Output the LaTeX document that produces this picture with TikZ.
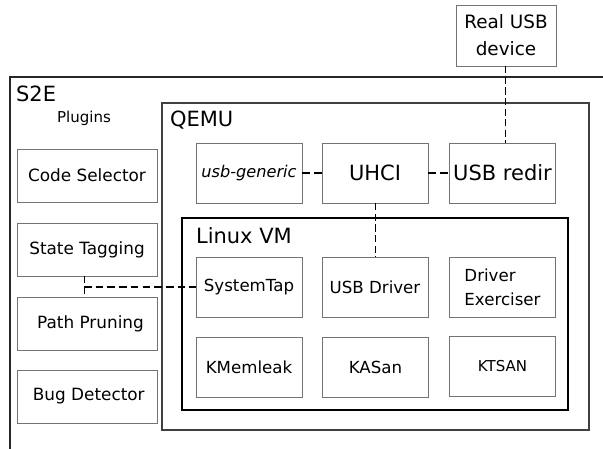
\documentclass[tikz,border=0pt]{standalone}
\usepackage{fontspec}
\setmainfont{DejaVu Sans}
\usetikzlibrary{calc}

\tikzset{
  plugbox/.style={draw=black!55, line width=0.7pt, minimum width=42mm, minimum height=15.9mm, inner sep=0pt, font=\fontsize{14.4}{17}\selectfont},
  qbox/.style={draw=black!55, line width=0.7pt, minimum width=31.8mm, minimum height=18mm, inner sep=0pt, font=\fontsize{14.2}{20.5}\selectfont},
  bigtext/.style={font=\fontsize{17.9}{21}\selectfont},
  link/.style={dash pattern=on 6.5pt off 3.5pt, line width=1.3pt},
  thinlink/.style={dash pattern=on 6pt off 3pt, line width=0.8pt}
}

\begin{document}
\begin{tikzpicture}[x=0.3mm, y=-0.3mm]

                \clip (0,0) rectangle (603,449);
                \fill[white] (0,0) rectangle (603,449);

                % outer frames
                \draw[black!85, line width=1pt] (10,477) -- (10,77) -- (640,77);
                \draw[black!75, line width=1pt] (162,103) rectangle (589,430);
                \draw[black, line width=2pt] (182,218) rectangle (568,410);

                \node[bigtext, anchor=west] (s2e) at (12,94) {S2E};
                \node[font=\fontsize{12.8}{15}\selectfont] (plugins) at (84,118) {Plugins};
                \node[bigtext, anchor=west] (qemu) at (166,120) {QEMU};
                \node[bigtext, anchor=west] (linux) at (192,235.5) {Linux VM};

                % plugins
                \node[plugbox] (cs) at (87,175.5) {Code Selector};
                \node[plugbox] (st) at (87,249.5) {State Tagging};
                \node[plugbox] (pp) at (87,323.5) {\hspace{6pt}Path Pruning};
                \node[plugbox] (bd) at (87,396.5) {\hspace{3pt}Bug Detector};

                % usb device
                \node[draw=black!55, line width=0.7pt, minimum width=30mm, minimum height=18.3mm, inner sep=0pt,
                      align=center, font=\fontsize{15.7}{23}\selectfont] (real) at (506,35.5) {Real USB\\device};

                % qemu
                \node[qbox, font=\fontsize{13.8}{17}\selectfont\itshape] (ug) at (249,173) {usb-generic\hspace{4pt}};
                \node[qbox, bigtext] (uhci) at (375,173) {UHCI\hspace{4pt}};
                \node[qbox, bigtext] (redir) at (502.5,173) {USB redir};

                % linux vm
                \node[qbox] (stap) at (249,287) {\raisebox{-3pt}{SystemTap}};
                \node[qbox] (drv) at (375,287) {USB Driver\hspace{4pt}};
                \node[qbox, align=left] (dex) at (502.5,287) {Driver\\Exerciser};
                \node[qbox] (kml) at (249,367) {\raisebox{-2pt}{KMemleak}};
                \node[qbox] (kas) at (375.5,367) {\raisebox{-2pt}{KASan}};
                \node[qbox, font=\fontsize{12.8}{15}\selectfont] (kts) at (502.5,366.5) {KTSAN};

                % connectors
                \coordinate (tap) at (84,287);
                \draw[link] (ug) -- (uhci);
                \draw[link] (uhci) -- (redir);
                \draw[thinlink] (uhci) -- (drv);
                \draw[thinlink] (real.south -| 505,0) -- (redir.north -| 505,0);
                \draw[thinlink] (st.south -| tap) -- (pp.north -| tap);
                \draw[link] (tap) -- (stap.west);
            \end{tikzpicture}
\end{document}
